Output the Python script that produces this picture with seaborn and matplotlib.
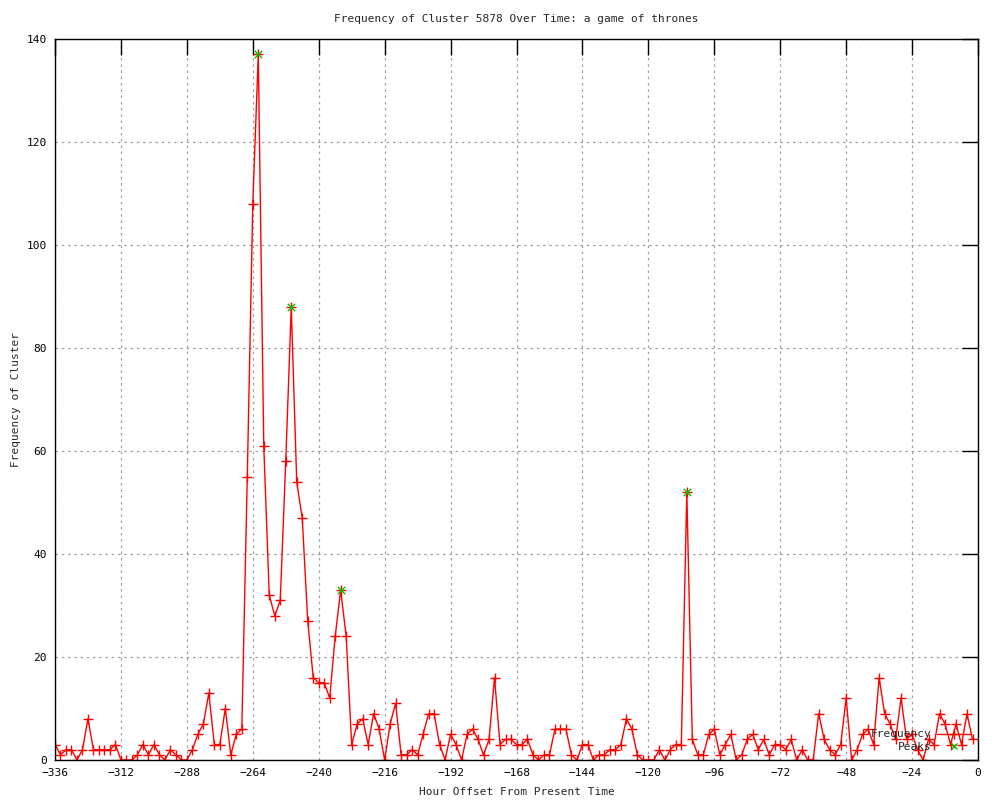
import matplotlib
matplotlib.use("Agg")
import matplotlib.pyplot as plt
import seaborn as sns
import pandas as pd
from matplotlib.lines import Line2D

hours = list(range(-336, 0, 2))
freq = [3, 1, 2, 2, 0, 2, 8, 2, 2, 2, 2, 3, 0, 0, 0, 1, 3, 1, 3, 1,
        0, 2, 1, 0, 0, 2, 5, 7, 13, 3, 3, 10, 1, 5, 6, 55, 108, 137, 61, 32,
        28, 31, 58, 88, 54, 47, 27, 16, 15, 15, 12, 24, 33, 24, 3, 7, 8, 3, 9, 6,
        0, 7, 11, 1, 1, 2, 1, 5, 9, 9, 3, 0, 5, 3, 0, 5, 6, 4, 1, 4,
        16, 3, 4, 4, 3, 3, 4, 1, 0, 1, 1, 6, 6, 6, 1, 0, 3, 3, 0, 1,
        1, 2, 2, 3, 8, 6, 1, 0, 0, 0, 2, 0, 2, 3, 3, 52, 4, 1, 1, 5,
        6, 1, 3, 5, 0, 1, 4, 5, 2, 4, 1, 3, 3, 2, 4, 0, 2, 0, 0, 9,
        4, 2, 1, 3, 12, 0, 2, 5, 6, 3, 16, 9, 7, 4, 12, 4, 5, 2, 0, 4,
        3, 9, 7, 3, 7, 3, 9, 4]
peak_hours = [-262, -250, -232, -106]
peak_vals = [137, 88, 33, 52]
x_ticks = list(range(-336, 1, 24))
y_ticks = list(range(0, 141, 20))

df = pd.DataFrame({"hour": hours, "freq": freq})
pk = pd.DataFrame({"hour": peak_hours, "freq": peak_vals})

sns.set_style("white")
plt.rcParams["font.family"] = ["DejaVu Sans Mono", "DejaVu Sans"]

fig = plt.figure(figsize=(10, 8), dpi=100)
ax = fig.add_axes([0.055, 0.05, 0.923, 0.90125])

sns.lineplot(data=df, x="hour", y="freq", ax=ax, color="#ff0000", linewidth=1,
             marker="+", markersize=6.5, markeredgewidth=1, markeredgecolor="#ff0000")
sns.scatterplot(data=pk, x="hour", y="freq", ax=ax, color="#00c000", marker="x",
                s=28, linewidth=1, zorder=5)

ax.set_xlim(-336, 0)
ax.set_ylim(0, 140)
ax.set_xticks(x_ticks)
ax.set_yticks(y_ticks)
ax.tick_params(direction="in", length=11.5, width=1, top=True, right=True,
               labelsize=8, colors="black", pad=6)
ax.grid(True, linestyle=(0, (2, 3)), color="#a0a0a0", linewidth=0.9)
for s in ax.spines.values():
    s.set_color("black")
    s.set_linewidth(1)

ax.set_xlabel("Hour Offset From Present Time", fontsize=8, labelpad=6)
ax.set_ylabel("Frequency of Cluster", fontsize=8, labelpad=4)
ax.set_title("Frequency of Cluster 5878 Over Time: a game of thrones", fontsize=8, pad=12)

handles = [Line2D([0], [0], color="#ff0000", lw=1, marker="+", markersize=6.5),
           Line2D([0], [0], color="#00c000", lw=0, marker="x", markersize=5)]
ax.legend(handles, ["Frequency", "Peaks"], loc="lower right", bbox_to_anchor=(1.0, 0.0),
          frameon=False, markerfirst=False, fontsize=8, handlelength=3.0,
          labelspacing=0.25, handletextpad=0.5, numpoints=1, borderaxespad=0.3)

fig.savefig("out.png", dpi=100)
